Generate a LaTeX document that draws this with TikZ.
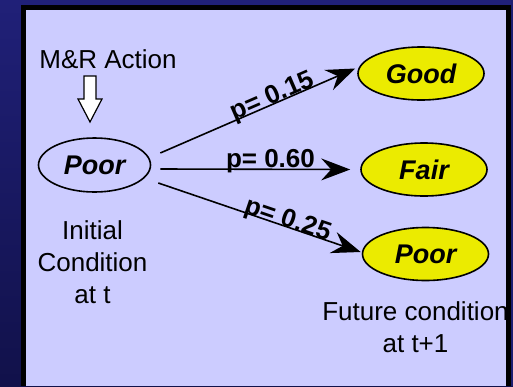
\documentclass[tikz,border=0pt]{standalone}
\usepackage{fontspec}
\setmainfont{Liberation Sans}
\usetikzlibrary{arrows.meta,positioning,shapes.geometric}
\definecolor{navytop}{RGB}{32,32,120}
\definecolor{navybot}{RGB}{17,17,74}
\definecolor{panelblue}{RGB}{204,204,255}
\definecolor{stateyellow}{RGB}{235,235,0}

\begin{document}
\begin{tikzpicture}[x=1pt, y=-1pt, >={Stealth[length=29pt,width=22pt,inset=10pt]}, font=\fontsize{26}{32}\selectfont]
  \tikzstyle{state}=[draw, ellipse, line width=1.6pt, inner sep=0pt, minimum width=112pt, minimum height=54pt, font=\fontsize{27}{30}\selectfont\bfseries\itshape]
  \tikzstyle{future}=[state, fill=stateyellow, minimum width=126pt, minimum height=53pt]
  \tikzstyle{trans}=[->, line width=1.6pt]
  \tikzstyle{prob}=[sloped, anchor=base, inner sep=0pt, font=\fontsize{26}{28}\selectfont\bfseries]

  \useasboundingbox (0,0) rectangle (513,386);
  \shade[top color=navytop, bottom color=navybot] (0,0) rectangle (513,386);
  \fill[black] (21,5) rectangle (511,386);
  \fill[panelblue] (26,10) rectangle (506,386);

  \node[anchor=base] (mr) at (108,68) {M\&R Action};
  \draw[fill=white, line width=1.2pt] (84,76) -- (96,76) -- (96,99) -- (102,99) -- (90,122) -- (78,99) -- (84,99) -- cycle;

  \node[state] (src) at (94.5,165) {Poor};
  \node[future] (good) at (421,73.5) {Good};
  \node[future] (fair) at (424,169.5) {Fair};
  \node[future] (poor) at (425.5,254) {Poor};

  \draw[trans] ([xshift=9pt,yshift=12pt]src.east) -- node[prob, pos=0.59] {p= 0.15} ([xshift=-2pt,yshift=5pt]good.west);
  \draw[trans] ([xshift=9pt,yshift=-4pt]src.east) -- node[prob, pos=0.58, yshift=2pt] {p= 0.60} ([xshift=-10pt]fair.west);
  \draw[trans] ([xshift=7pt,yshift=-18pt]src.east) -- node[prob, pos=0.63] {p= 0.25} ([xshift=-1pt,yshift=2pt]poor.west);

  \node[below=28pt of src, xshift=-2pt, align=center, inner sep=0pt] (init) {Initial\\Condition\\at t};
  \node[below=20pt of poor, xshift=-10pt, align=center, inner sep=0pt] (fut) {Future condition\\at t+1};

  % right edge of the frame lies over the text
  \fill[black] (506,5) rectangle (511,386);
  \fill[navytop!80!navybot] (511,0) rectangle (513,386);
\end{tikzpicture}
\end{document}
